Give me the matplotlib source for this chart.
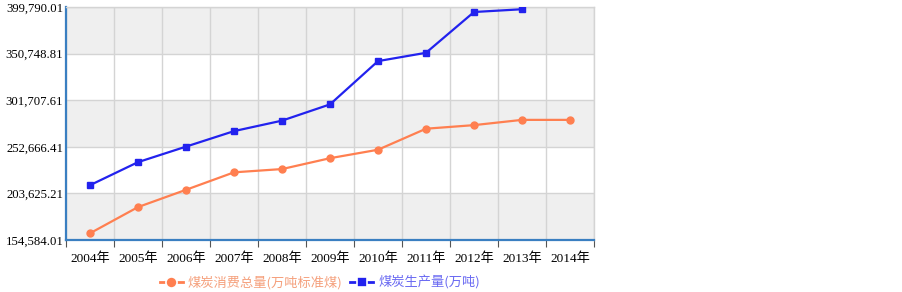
import numpy as np
import matplotlib
matplotlib.use('Agg')
import matplotlib.pyplot as plt
from matplotlib.lines import Line2D
from matplotlib.ticker import FixedLocator, FuncFormatter

plt.rcParams['font.family'] = ['Liberation Serif', 'Noto Sans CJK SC', 'DejaVu Sans']

# 数据
years = ['2004年', '2005年', '2006年', '2007年', '2008年', '2009年',
         '2010年', '2011年', '2012年', '2013年', '2014年']
consumption = [161657, 189231, 207402, 225795, 229237, 240666,
               249568, 271704, 275465, 280999, 281000]
production = [212261, 236515, 252855, 269164, 280200, 297300,
              342845, 351600, 394513, 397432]
label_cons = '煤炭消费总量(万吨标准煤)'
label_prod = '煤炭生产量(万吨)'

Y_MIN = 154584.01
Y_MAX = 399790.01

ORANGE = '#ff7f50'
BLUE = '#2222ee'

fig = plt.figure(figsize=(9.03, 2.92), dpi=100)
ax = fig.add_axes([66 / 903, 1 - 240 / 292, 528 / 903, 233 / 292])

yticks = np.linspace(Y_MIN, Y_MAX, 6)
# 交替的背景色带
for i in range(5):
    if i % 2 == 0:
        ax.axhspan(yticks[i], yticks[i + 1], color='#efefef', zorder=0, lw=0)

x = np.arange(len(years))
ax.plot(x, consumption, color=ORANGE, lw=1.6, marker='o', ms=5, zorder=3)
ax.plot(x[:len(production)], production, color=BLUE, lw=1.6, marker='s', ms=5, zorder=3)

ax.set_xlim(-0.5, len(years) - 0.5)
ax.set_ylim(Y_MIN, Y_MAX)

ax.yaxis.set_major_locator(FixedLocator(yticks))
ax.yaxis.set_major_formatter(FuncFormatter(lambda v, p: '{:,.2f}'.format(v)))
ax.tick_params(axis='y', length=0, pad=2, labelsize=9.2)

bounds = np.arange(len(years) + 1) - 0.5
ax.xaxis.set_major_locator(FixedLocator(bounds))
ax.xaxis.set_major_formatter(FuncFormatter(lambda v, p: ''))
ax.xaxis.set_minor_locator(FixedLocator(x))
ax.set_xticks(x, years, minor=True)
ax.tick_params(axis='x', which='major', length=5, color='#555555', direction='out')
ax.tick_params(axis='x', which='minor', length=0, pad=9, labelsize=9.5)

ax.grid(True, which='major', color='#d4d4d4', lw=1, zorder=1)
ax.set_axisbelow(True)

for s in ['top', 'right']:
    ax.spines[s].set_color('#d4d4d4')
    ax.spines[s].set_linewidth(1)
for s in ['left', 'bottom']:
    ax.spines[s].set_color('#3a7fc1')
    ax.spines[s].set_linewidth(1.6)

handles = [
    Line2D([], [], color=ORANGE, lw=2, marker='o', ms=8, mec='white', mew=1.2),
    Line2D([], [], color=BLUE, lw=2, marker='s', ms=7.5, mec='white', mew=1.2),
]
leg = fig.legend(handles, [label_cons, label_prod], loc='center',
                 bbox_to_anchor=(320 / 903, 1 - 283 / 292), ncol=2, frameon=False,
                 handlelength=1.7, handletextpad=0.4, columnspacing=0.6,
                 prop={'family': ['Noto Sans CJK SC', 'DejaVu Sans'], 'size': 9.5})
leg.get_texts()[0].set_color('#f5a07c')
leg.get_texts()[1].set_color('#6a6af2')

fig.savefig('out.png', dpi=100)
